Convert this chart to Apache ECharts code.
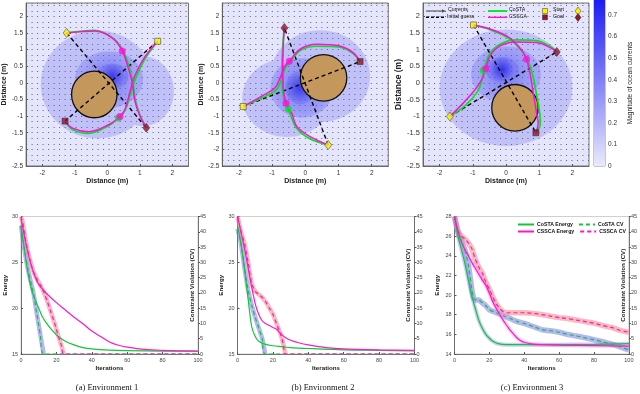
<!DOCTYPE html>
<html>
<head>
<meta charset="utf-8">
<script src="https://cdn.jsdelivr.net/npm/echarts@6/dist/echarts.min.js"></script>
<style>
  html, body { margin: 0; padding: 0; background: #fff; }
  #chart { width: 640px; height: 394px; }
</style>
</head>
<body>
<div id="chart"></div>
<script>
// ---------- top row: current maps ----------
const distTicksX = [-2, -1, 0, 1, 2];
const distTicksY = [-2.5, -2, -1.5, -1, -0.5, 0, 0.5, 1, 1.5, 2];
const cbarTicks = [0, 0.1, 0.2, 0.3, 0.4, 0.5, 0.6, 0.7];
const cbarMax = 0.77;

// current magnitude blobs: [cx, cy, rx, ry, edge level, centre level]
const field1 = [[-0.3, -0.05, 1.75, 1.62, 0.15, 0.16], [1.1, -0.25, 0.95, 1.05, 0.15, 0.16],
                [0.05, 0.1, 1.05, 0.85, 0.26, 0.42], [0.15, 0.2, 0.5, 0.38, 0.4, 0.66]];
const field2 = [[0.45, 0.2, 1.5, 1.38, 0.15, 0.16], [-0.55, -0.45, 1.35, 1.18, 0.15, 0.16],
                [-0.1, -0.15, 0.95, 0.9, 0.26, 0.42], [-0.15, -0.15, 0.45, 0.5, 0.4, 0.66]];
const field3 = [[0.0, -0.15, 2.0, 1.75, 0.15, 0.16],
                [0.0, 0.25, 1.05, 0.85, 0.26, 0.42], [-0.12, 0.4, 0.5, 0.38, 0.4, 0.7]];

// obstacle: [cx, cy, r]
const obstacle1 = [[-0.4, -0.35, 0.7]];
const obstacle2 = [[0.55, 0.15, 0.7]];
const obstacle3 = [[0.27, -0.75, 0.7]];

const startSq1 = [1.55, 1.25], goalSq1 = [-1.3, -1.15], startDm1 = [-1.25, 1.5], goalDm1 = [1.2, -1.35];
const startSq2 = [-1.87, -0.71], goalSq2 = [1.65, 0.64], startDm2 = [0.69, -1.87], goalDm2 = [-0.63, 1.65];
const startSq3 = [-0.98, 1.74], goalSq3 = [0.9, -1.5], startDm3 = [-1.69, -1.01], goalDm3 = [1.53, 0.93];

const env1CsscaA = [[-1.25, 1.5], [-0.37, 1.56], [0.14, 1.36], [0.46, 0.96], [0.69, 0.3], [0.79, -0.1], [0.84, -0.51], [0.99, -0.96], [1.2, -1.35]];
const env1CostaA = [[-1.25, 1.5], [-0.4, 1.58], [0.12, 1.38], [0.48, 0.98], [0.72, 0.3], [0.8, -0.1], [0.86, -0.5], [1.0, -0.95], [1.2, -1.35]];
const env1CsscaB = [[1.55, 1.25], [1.14, 0.76], [0.84, 0.2], [0.69, -0.3], [0.54, -0.81], [0.39, -1.01], [0.04, -1.26], [-0.57, -1.47], [-1.07, -1.36], [-1.3, -1.15]];
const env1CostaB = [[1.55, 1.25], [1.17, 0.74], [0.9, 0.2], [0.72, -0.32], [0.55, -0.82], [0.34, -1.06], [0.02, -1.3], [-0.57, -1.52], [-1.07, -1.4], [-1.3, -1.15]];
const env1CsscaDots = [[0.46, 0.96], [0.39, -1.01]];
const env1CostaDots = [[0.34, -1.06]];

const env2CsscaA = [[-1.87, -0.71], [-1.31, -0.4], [-0.91, -0.15], [-0.76, 0.15], [-0.61, 0.5], [-0.48, 0.65], [-0.16, 1.01], [0.34, 1.16], [1.04, 1.11], [1.44, 0.91], [1.65, 0.64]];
const env2CostaA = [[-1.87, -0.71], [-1.3, -0.45], [-0.88, -0.22], [-0.72, 0.1], [-0.6, 0.45], [-0.46, 0.62], [-0.15, 0.97], [0.34, 1.1], [1.04, 1.07], [1.44, 0.88], [1.65, 0.64]];
const env2CsscaB = [[0.69, -1.87], [0.14, -1.62], [-0.26, -1.31], [-0.41, -0.91], [-0.51, -0.79], [-0.58, -0.61], [-0.66, -0.2], [-0.68, 0.5], [-0.66, 1.21], [-0.63, 1.65]];
const env2CostaB = [[0.69, -1.87], [0.12, -1.67], [-0.28, -1.34], [-0.45, -0.95], [-0.51, -0.79], [-0.6, -0.6], [-0.69, -0.2], [-0.7, 0.5], [-0.67, 1.21], [-0.63, 1.65]];
const env2CsscaDots = [[-0.48, 0.65], [-0.58, -0.61]];
const env2CostaDots = [[-0.51, -0.79]];

const env3CsscaA = [[-0.98, 1.74], [-0.48, 1.62], [0.02, 1.41], [0.32, 1.16], [0.52, 0.91], [0.62, 0.71], [0.72, 0.3], [0.82, -0.3], [0.92, -0.91], [0.97, -1.21], [0.9, -1.5]];
const env3CostaA = [[-0.98, 1.74], [-0.48, 1.6], [0.02, 1.38], [0.33, 1.12], [0.54, 0.88], [0.66, 0.66], [0.8, 0.25], [0.92, -0.35], [1.02, -0.95], [1.03, -1.25], [0.9, -1.5]];
const env3CsscaB = [[-1.69, -1.01], [-1.29, -0.61], [-0.93, -0.2], [-0.73, 0.1], [-0.61, 0.42], [-0.48, 0.81], [-0.18, 1.11], [0.32, 1.23], [0.92, 1.21], [1.33, 1.06], [1.53, 0.93]];
const env3CostaB = [[-1.69, -1.01], [-1.22, -0.68], [-0.85, -0.25], [-0.72, 0.1], [-0.66, 0.4], [-0.5, 0.85], [-0.18, 1.16], [0.32, 1.29], [0.92, 1.27], [1.33, 1.1], [1.53, 0.93]];
const env3CsscaDots = [[0.62, 0.71], [-0.61, 0.42]];
const env3CostaDots = [[-0.68, 0.38]];

// ---------- bottom row: convergence ----------
const costaEnergyA = [[0, 29], [2, 26.3], [4, 23.8], [6, 22], [8, 20.9], [10, 20], [12, 19.1], [15, 18.2], [18, 17.5], [21, 16.9], [25, 16.4], [30, 16], [35, 15.7], [40, 15.55], [50, 15.42], [60, 15.37], [80, 15.32], [100, 15.3]];
const costaCvA = [[0, 42], [2, 34], [4, 27.5], [6, 22.5], [7, 20], [9, 13], [11, 6], [12.8, 0], [100, 0]];
const csscaEnergyA = [[0, 29.8], [2, 27.8], [4, 26], [6, 24.5], [8, 23.4], [10, 22.6], [13, 21.9], [16, 21.3], [20, 20.6], [25, 19.8], [30, 19], [35, 18.3], [40, 17.5], [45, 16.9], [50, 16.3], [55, 15.95], [60, 15.75], [70, 15.5], [80, 15.4], [90, 15.35], [100, 15.32]];
const csscaCvA = [[0, 45], [1, 43], [3, 36], [5, 31], [7, 27], [9, 24.5], [11, 22.5], [13, 20], [15, 17], [17, 13.5], [19, 10], [21, 6], [23, 2.5], [24, 0], [100, 0]];

const costaEnergyB = [[0, 29], [2, 27], [4, 24.2], [6, 21], [8, 18], [10, 16.9], [12, 16.4], [15, 16.1], [20, 15.9], [25, 15.8], [30, 15.7], [40, 15.6], [60, 15.45], [80, 15.4], [100, 15.35]];
const costaCvB = [[0, 41], [2, 36], [4, 28], [6, 21], [8, 16], [10, 12], [12, 8.5], [14, 5], [15.6, 0], [100, 0]];
const csscaEnergyB = [[0, 30], [2, 28.3], [4, 26.5], [6, 24.4], [8, 22.3], [10, 20.5], [12, 19.3], [14, 18.6], [16, 18.3], [18, 18.1], [20, 17.9], [22, 17.7], [24, 17.3], [27, 16.8], [30, 16.5], [35, 16.2], [40, 16], [50, 15.7], [60, 15.55], [80, 15.45], [100, 15.4]];
const csscaCvB = [[0, 45], [2, 40], [4, 36], [6, 30], [8, 23], [10, 20.5], [12, 19.5], [14, 18.5], [16, 17], [18, 15], [20, 13], [22, 10], [24, 7], [26, 3], [27, 0], [100, 0]];

const costaEnergyC = [[0, 28], [2, 26], [4, 24.6], [6, 23.2], [8, 21.5], [10, 19.9], [12, 18.6], [14, 17.4], [16, 16.6], [18, 16], [20, 15.6], [22, 15.3], [25, 15.05], [30, 14.95], [40, 14.95], [60, 14.95], [80, 14.98], [100, 15.05]];
const costaCvC = [[0, 45], [2, 40], [4, 37], [6, 34], [8, 29], [10, 21], [11, 18.3], [12, 17.7], [14, 17.7], [16, 16.7], [18, 15.8], [20, 14.5], [24, 13.5], [28, 12.5], [32, 11.6], [36, 10.6], [40, 10], [45, 9], [50, 8], [55, 7.6], [60, 7.1], [65, 6.4], [70, 5.9], [75, 5.3], [80, 4.7], [85, 4], [90, 3.2], [95, 2.3], [100, 1.3]];
const csscaEnergyC = [[0, 28], [2, 26.5], [4, 25.4], [6, 24.6], [8, 24], [10, 23.3], [12, 22.7], [14, 22.1], [16, 21.5], [18, 21], [20, 20.2], [22, 19.3], [24, 18.6], [26, 18], [28, 17.4], [30, 16.9], [32, 16.4], [34, 16], [36, 15.6], [38, 15.35], [40, 15.2], [45, 15], [50, 14.95], [60, 14.9], [80, 14.85], [100, 14.8]];
const csscaCvC = [[0, 45], [2, 40.2], [4, 38.6], [6, 37.6], [8, 36.3], [10, 34.4], [12, 30.9], [14, 28.3], [16, 26.4], [18, 23.5], [20, 21.2], [22, 18.6], [24, 16.4], [26, 14.8], [28, 13.8], [30, 13.5], [35, 13.5], [40, 13.5], [45, 13.3], [50, 12.9], [55, 12.4], [60, 11.9], [65, 11.6], [70, 11.1], [75, 10.6], [80, 10.1], [85, 9.3], [90, 8.7], [95, 7.7], [100, 7.1]];

const GREEN_TOP = "#00e51c", MAGENTA_TOP = "#ff10d8";
const GREEN = "#14c43c", MAGENTA = "#ff18c8";
const YELLOW = "#fff000", DARKRED = "#8e1828";

function levelColor(v) {
  const t = Math.max(0, Math.min(1, v / cbarMax));
  const r = Math.round(234 + (28 - 234) * t);
  const b = Math.round(251 + (242 - 251) * t);
  return "rgb(" + r + "," + r + "," + b + ")";
}

function renderBlob(params, api) {
  const c = api.coord([api.value(0), api.value(1)]);
  const s = api.size([api.value(2), api.value(3)]);
  return {
    type: "ellipse",
    shape: { cx: c[0], cy: c[1], rx: s[0], ry: s[1] },
    style: {
      fill: {
        type: "radial", x: 0.5, y: 0.5, r: 0.5,
        colorStops: [
          { offset: 0, color: levelColor(api.value(5)) },
          { offset: 1, color: levelColor(api.value(4)) }
        ]
      }
    }
  };
}

function renderObstacle(params, api) {
  const c = api.coord([api.value(0), api.value(1)]);
  const s = api.size([api.value(2), api.value(2)]);
  return {
    type: "ellipse",
    shape: { cx: c[0], cy: c[1], rx: s[0], ry: s[1] },
    style: { fill: "#c4985c", stroke: "#111", lineWidth: 1.3 }
  };
}

// the shaded band stops where the violation reaches zero
function untilZero(arr) {
  const i = arr.findIndex(function (p) { return p[1] <= 0; });
  return i < 0 ? arr : arr.slice(0, i + 1);
}

const grids = [];
const xAxes = [];
const yAxes = [];
const series = [];

// top map panels
const topLefts = [22.5, 222.3, 423];
const topFont = [6.5, 6.5, 7.5];
const topNameFont = [7, 7, 8.5];

function addMap(k, field, obstacle, sqS, sqG, dmS, dmG, cA, sA, cB, sB, cDots, sDots) {
  grids.push({ left: topLefts[k], top: 3, width: 166, height: 163, show: true,
    backgroundColor: levelColor(0.02), borderColor: "#555", borderWidth: 0.8 });
  xAxes.push({
    gridIndex: k, type: "value", min: -2.5, max: 2.5,
    axisLine: { onZero: false, lineStyle: { color: "#555", width: 0.8 } },
    axisTick: { inside: true, length: 2, customValues: distTicksX, lineStyle: { color: "#555" } },
    axisLabel: { customValues: distTicksX, fontSize: 6.5, color: "#333", margin: 4 },
    splitLine: { show: false },
    name: "Distance (m)", nameLocation: "middle", nameGap: 12,
    nameTextStyle: { fontSize: 7, fontWeight: "bold", color: "#222" }
  });
  yAxes.push({
    gridIndex: k, type: "value", min: -2.5, max: 2.4,
    axisLine: { onZero: false, lineStyle: { color: "#555", width: 0.8 } },
    axisTick: { inside: true, length: 2, customValues: distTicksY, lineStyle: { color: "#555" } },
    axisLabel: { customValues: distTicksY, fontSize: topFont[k], color: "#333", margin: 3 },
    splitLine: { show: false },
    name: "Distance (m)", nameLocation: "middle", nameGap: k === 2 ? 14 : 12,
    nameTextStyle: { fontSize: topNameFont[k], fontWeight: "bold", color: "#222" }
  });
  const ax = k;
  series.push({ type: "custom", xAxisIndex: ax, yAxisIndex: ax, data: field, renderItem: renderBlob, z: 1, clip: true, silent: true });
  series.push({ type: "custom", xAxisIndex: ax, yAxisIndex: ax, data: obstacle, renderItem: renderObstacle, z: 5, silent: true });
  series.push({ type: "lines", coordinateSystem: "cartesian2d", xAxisIndex: ax, yAxisIndex: ax, z: 6,
    lineStyle: { color: "#000", width: 1.4, type: [4, 3], opacity: 1 },
    data: [{ coords: [sqS, sqG] }, { coords: [dmS, dmG] }] });
  [cA, cB].forEach(function (p) {
    series.push({ type: "line", xAxisIndex: ax, yAxisIndex: ax, data: p, symbol: "none", smooth: 0.35, z: 7,
      lineStyle: { color: GREEN_TOP, width: 1.7 } });
  });
  [sA, sB].forEach(function (p) {
    series.push({ type: "line", xAxisIndex: ax, yAxisIndex: ax, data: p, symbol: "none", smooth: 0.35, z: 8,
      lineStyle: { color: MAGENTA_TOP, width: 1.5 } });
  });
  series.push({ type: "scatter", xAxisIndex: ax, yAxisIndex: ax, data: cDots, symbolSize: 7, z: 9,
    itemStyle: { color: GREEN_TOP } });
  series.push({ type: "scatter", xAxisIndex: ax, yAxisIndex: ax, data: sDots, symbolSize: 7, z: 10,
    itemStyle: { color: MAGENTA_TOP } });
  series.push({ type: "scatter", xAxisIndex: ax, yAxisIndex: ax, z: 11,
    itemStyle: { borderColor: "#222", borderWidth: 0.6 },
    data: [
      { value: sqS, symbol: "rect", symbolSize: 6, itemStyle: { color: YELLOW } },
      { value: sqG, symbol: "rect", symbolSize: 6, itemStyle: { color: DARKRED } },
      { value: dmS, symbol: "diamond", symbolSize: [7, 9], itemStyle: { color: YELLOW } },
      { value: dmG, symbol: "diamond", symbolSize: [7, 9], itemStyle: { color: DARKRED } }
    ] });
}

addMap(0, field1, obstacle1, startSq1, goalSq1, startDm1, goalDm1, env1CostaA, env1CsscaA, env1CostaB, env1CsscaB, env1CostaDots, env1CsscaDots);
addMap(1, field2, obstacle2, startSq2, goalSq2, startDm2, goalDm2, env2CostaA, env2CsscaA, env2CostaB, env2CsscaB, env2CostaDots, env2CsscaDots);
addMap(2, field3, obstacle3, startSq3, goalSq3, startDm3, goalDm3, env3CostaA, env3CsscaA, env3CostaB, env3CsscaB, env3CostaDots, env3CsscaDots);

// quiver dot lattice: dotted split lines drawn above the blobs
for (let k = 0; k < 3; k++) {
  yAxes.push({
    gridIndex: k, type: "value", min: -2.5, max: 2.4, interval: 1 / 6, z: 3,
    axisLine: { show: false }, axisTick: { show: false }, axisLabel: { show: false },
    splitLine: { show: true, lineStyle: { color: "#606078", width: 1, type: [1, 4.5] } }
  });
}

// colour bar (grid 3)
grids.push({ left: 594, top: 0, width: 11, height: 166, show: true, borderColor: "#777", borderWidth: 0.8 });
xAxes.push({ gridIndex: 3, type: "category", data: ["m"], show: false });
yAxes.push({
  gridIndex: 3, type: "value", min: 0, max: cbarMax, position: "right",
  axisLine: { show: false },
  axisTick: { inside: true, length: 2, customValues: cbarTicks, lineStyle: { color: "#555" } },
  axisLabel: { customValues: cbarTicks, fontSize: 6.5, color: "#333", margin: 3 }, splitLine: { show: false },
  name: "Magnitude of ocean currents", nameLocation: "middle", nameGap: 22,
  nameTextStyle: { fontSize: 6.5, color: "#222" }
});
series.push({ type: "bar", xAxisIndex: 3, yAxisIndex: yAxes.length - 1, data: [cbarMax], barWidth: "100%",
  silent: true, itemStyle: { color: new echarts.graphic.LinearGradient(0, 0, 0, 1,
    [{ offset: 0, color: levelColor(cbarMax) }, { offset: 1, color: levelColor(0) }]) } });

// bottom panels
const botLefts = [21, 237.5, 454.5];
const botWidths = [177, 177, 175.5];
const energyMin = [15, 15, 14], energyMax = [30, 30, 28], energyStep = [5, 5, 2];
const botSets = [
  [costaEnergyA, costaCvA, csscaEnergyA, csscaCvA],
  [costaEnergyB, costaCvB, csscaEnergyB, csscaCvB],
  [costaEnergyC, costaCvC, csscaEnergyC, csscaCvC]
];
const BOT_FONT = "Liberation Sans";

for (let k = 0; k < 3; k++) {
  const g = grids.length;
  grids.push({ left: botLefts[k], top: 216.5, width: botWidths[k], height: 137.5, show: true,
    borderColor: "#c4c4c4", borderWidth: 0.8 });
  const xi = xAxes.length;
  xAxes.push({
    gridIndex: g, type: "value", min: 0, max: 100, interval: 20,
    axisLine: { onZero: false, lineStyle: { color: "#555", width: 0.8 } },
    axisTick: { inside: true, length: 2 },
    axisLabel: { fontSize: 5.5, color: "#444", margin: 3, fontFamily: BOT_FONT },
    splitLine: { show: false },
    name: "Iterations", nameLocation: "middle", nameGap: 11,
    nameTextStyle: { fontSize: 6.2, fontWeight: "bold", color: "#222", fontFamily: BOT_FONT }
  });
  const ei = yAxes.length;
  yAxes.push({
    gridIndex: g, type: "value", min: energyMin[k], max: energyMax[k], interval: energyStep[k],
    axisLine: { onZero: false, lineStyle: { color: "#555", width: 0.8 } },
    axisTick: { inside: true, length: 2 },
    axisLabel: { fontSize: 5.5, color: "#444", margin: 3, fontFamily: BOT_FONT },
    splitLine: { show: false },
    name: "Energy", nameLocation: "middle", nameGap: k === 2 ? 14 : 11,
    nameTextStyle: { fontSize: 6.2, fontWeight: "bold", color: "#222", fontFamily: BOT_FONT }
  });
  const ci = yAxes.length;
  yAxes.push({
    gridIndex: g, type: "value", min: 0, max: 45, interval: 5, position: "right",
    axisLine: { show: true, onZero: false, lineStyle: { color: "#555", width: 0.8 } },
    axisTick: { show: true, length: 2 },
    axisLabel: { fontSize: 5.5, color: "#444", margin: 2, fontFamily: BOT_FONT },
    splitLine: { show: false },
    name: "Constraint Violation (CV)", nameLocation: "middle", nameGap: -9,
    nameTextStyle: { fontSize: 6.2, fontWeight: "bold", color: "#222", fontFamily: BOT_FONT }
  });
  const set = botSets[k];
  // uncertainty bands
  series.push({ type: "line", xAxisIndex: xi, yAxisIndex: ci, data: untilZero(set[1]), symbol: "none", smooth: 0.2, z: 2, silent: true,
    lineStyle: { color: "rgba(120,120,240,0.55)", width: k === 2 ? 5.5 : 4.5 } });
  series.push({ type: "line", xAxisIndex: xi, yAxisIndex: ci, data: untilZero(set[3]), symbol: "none", smooth: 0.2, z: 2, silent: true,
    lineStyle: { color: "rgba(245,140,140,0.6)", width: k === 2 ? 5.5 : 4.5 } });
  if (k === 2) {
    series.push({ type: "line", xAxisIndex: xi, yAxisIndex: ei, data: set[0], symbol: "none", smooth: 0.3, z: 2, silent: true,
      lineStyle: { color: "rgba(130,130,240,0.4)", width: 4 } });
    series.push({ type: "line", xAxisIndex: xi, yAxisIndex: ei, data: set[2], symbol: "none", smooth: 0.3, z: 2, silent: true,
      lineStyle: { color: "rgba(255,120,220,0.35)", width: 4 } });
  }
  series.push({ name: "CoSTA Energy", type: "line", xAxisIndex: xi, yAxisIndex: ei, data: set[0], symbol: "none", smooth: 0.3, z: 3,
    lineStyle: { color: GREEN, width: 1.2 }, itemStyle: { color: GREEN } });
  series.push({ name: "CSSCA Energy", type: "line", xAxisIndex: xi, yAxisIndex: ei, data: set[2], symbol: "none", smooth: 0.3, z: 3,
    lineStyle: { color: MAGENTA, width: 1.2 }, itemStyle: { color: MAGENTA } });
  series.push({ name: "CoSTA CV", type: "line", xAxisIndex: xi, yAxisIndex: ci, data: set[1], symbol: "none", smooth: 0.2, z: 4,
    lineStyle: { color: GREEN, width: 1.2, type: [4, 3] }, itemStyle: { color: GREEN } });
  series.push({ name: "CSSCA CV", type: "line", xAxisIndex: xi, yAxisIndex: ci, data: set[3], symbol: "none", smooth: 0.2, z: 4,
    lineStyle: { color: MAGENTA, width: 1.2, type: [4, 3] }, itemStyle: { color: MAGENTA } });
}

// map legend glyphs (panel 3)
const lgText = { fontSize: 5.2, fill: "#111", fontFamily: "Liberation Sans", verticalAlign: "middle" };
function txt(x, y, s) { return { type: "text", left: x, top: y - 3.5, z: 100, style: Object.assign({ text: s }, lgText) }; }
const mapLegend = [
  { type: "line", z: 100, shape: { x1: 426, y1: 11, x2: 444, y2: 11 }, style: { stroke: "#555", lineWidth: 1.1 } },
  { type: "polygon", z: 100, shape: { points: [[446, 11], [442, 9.2], [442, 12.8]] }, style: { fill: "#555" } },
  txt(448, 11, "Currents"),
  { type: "line", z: 100, shape: { x1: 426, y1: 17.3, x2: 444, y2: 17.3 }, style: { stroke: "#000", lineWidth: 1.4, lineDash: [3, 2] } },
  txt(447, 17.3, "Initial guess"),
  { type: "line", z: 100, shape: { x1: 488, y1: 11, x2: 507, y2: 11 }, style: { stroke: GREEN_TOP, lineWidth: 1.8 } },
  txt(509, 11, "CoSTA"),
  { type: "line", z: 100, shape: { x1: 488, y1: 17.3, x2: 507, y2: 17.3 }, style: { stroke: MAGENTA_TOP, lineWidth: 1.4 } },
  txt(509, 17.3, "CSSCA"),
  { type: "rect", z: 100, shape: { x: 542.5, y: 8.5, width: 5, height: 5 }, style: { fill: YELLOW, stroke: "#333", lineWidth: 0.5 } },
  txt(553, 11, "Start"),
  { type: "polygon", z: 100, shape: { points: [[578, 7], [581, 11], [578, 15], [575, 11]] }, style: { fill: YELLOW, stroke: "#333", lineWidth: 0.5 } },
  { type: "rect", z: 100, shape: { x: 542.5, y: 14.8, width: 5, height: 5 }, style: { fill: DARKRED, stroke: "#333", lineWidth: 0.5 } },
  txt(553, 17.3, "Goal"),
  { type: "polygon", z: 100, shape: { points: [[578, 13.5], [581, 17.5], [578, 21.5], [575, 17.5]] }, style: { fill: DARKRED, stroke: "#333", lineWidth: 0.5 } }
];

const capStyle = { fontSize: 8.5, fill: "#111", fontFamily: "Liberation Serif", align: "center", verticalAlign: "middle" };
const captions = [
  { type: "text", x: 107, y: 388, style: Object.assign({ text: "(a) Environment 1" }, capStyle) },
  { type: "text", x: 323, y: 388, style: Object.assign({ text: "(b) Environment 2" }, capStyle) },
  { type: "text", x: 532, y: 388, style: Object.assign({ text: "(c) Environment 3" }, capStyle) }
];

const legendText = { fontSize: 5.2, fontWeight: "bold", color: "#111", fontFamily: BOT_FONT, padding: [0, 0, 0, -2] };
const legendBase = { left: 517, itemWidth: 16, itemHeight: 5, itemGap: 5, padding: 0,
  textStyle: legendText, itemStyle: { opacity: 0, borderWidth: 0 } };
const option = {
  animation: false,
  textStyle: { fontFamily: "Liberation Sans" },
  grid: grids,
  xAxis: xAxes,
  yAxis: yAxes,
  legend: [
    Object.assign({ data: ["CoSTA Energy", "CoSTA CV"], top: 222 }, legendBase),
    Object.assign({ data: ["CSSCA Energy", "CSSCA CV"], top: 229 }, legendBase)
  ],
  graphic: mapLegend.concat(captions),
  series: series
};

const chart = echarts.init(document.getElementById("chart"));
chart.setOption(option);
window.addEventListener("resize", function () { chart.resize(); });
</script>
</body>
</html>
